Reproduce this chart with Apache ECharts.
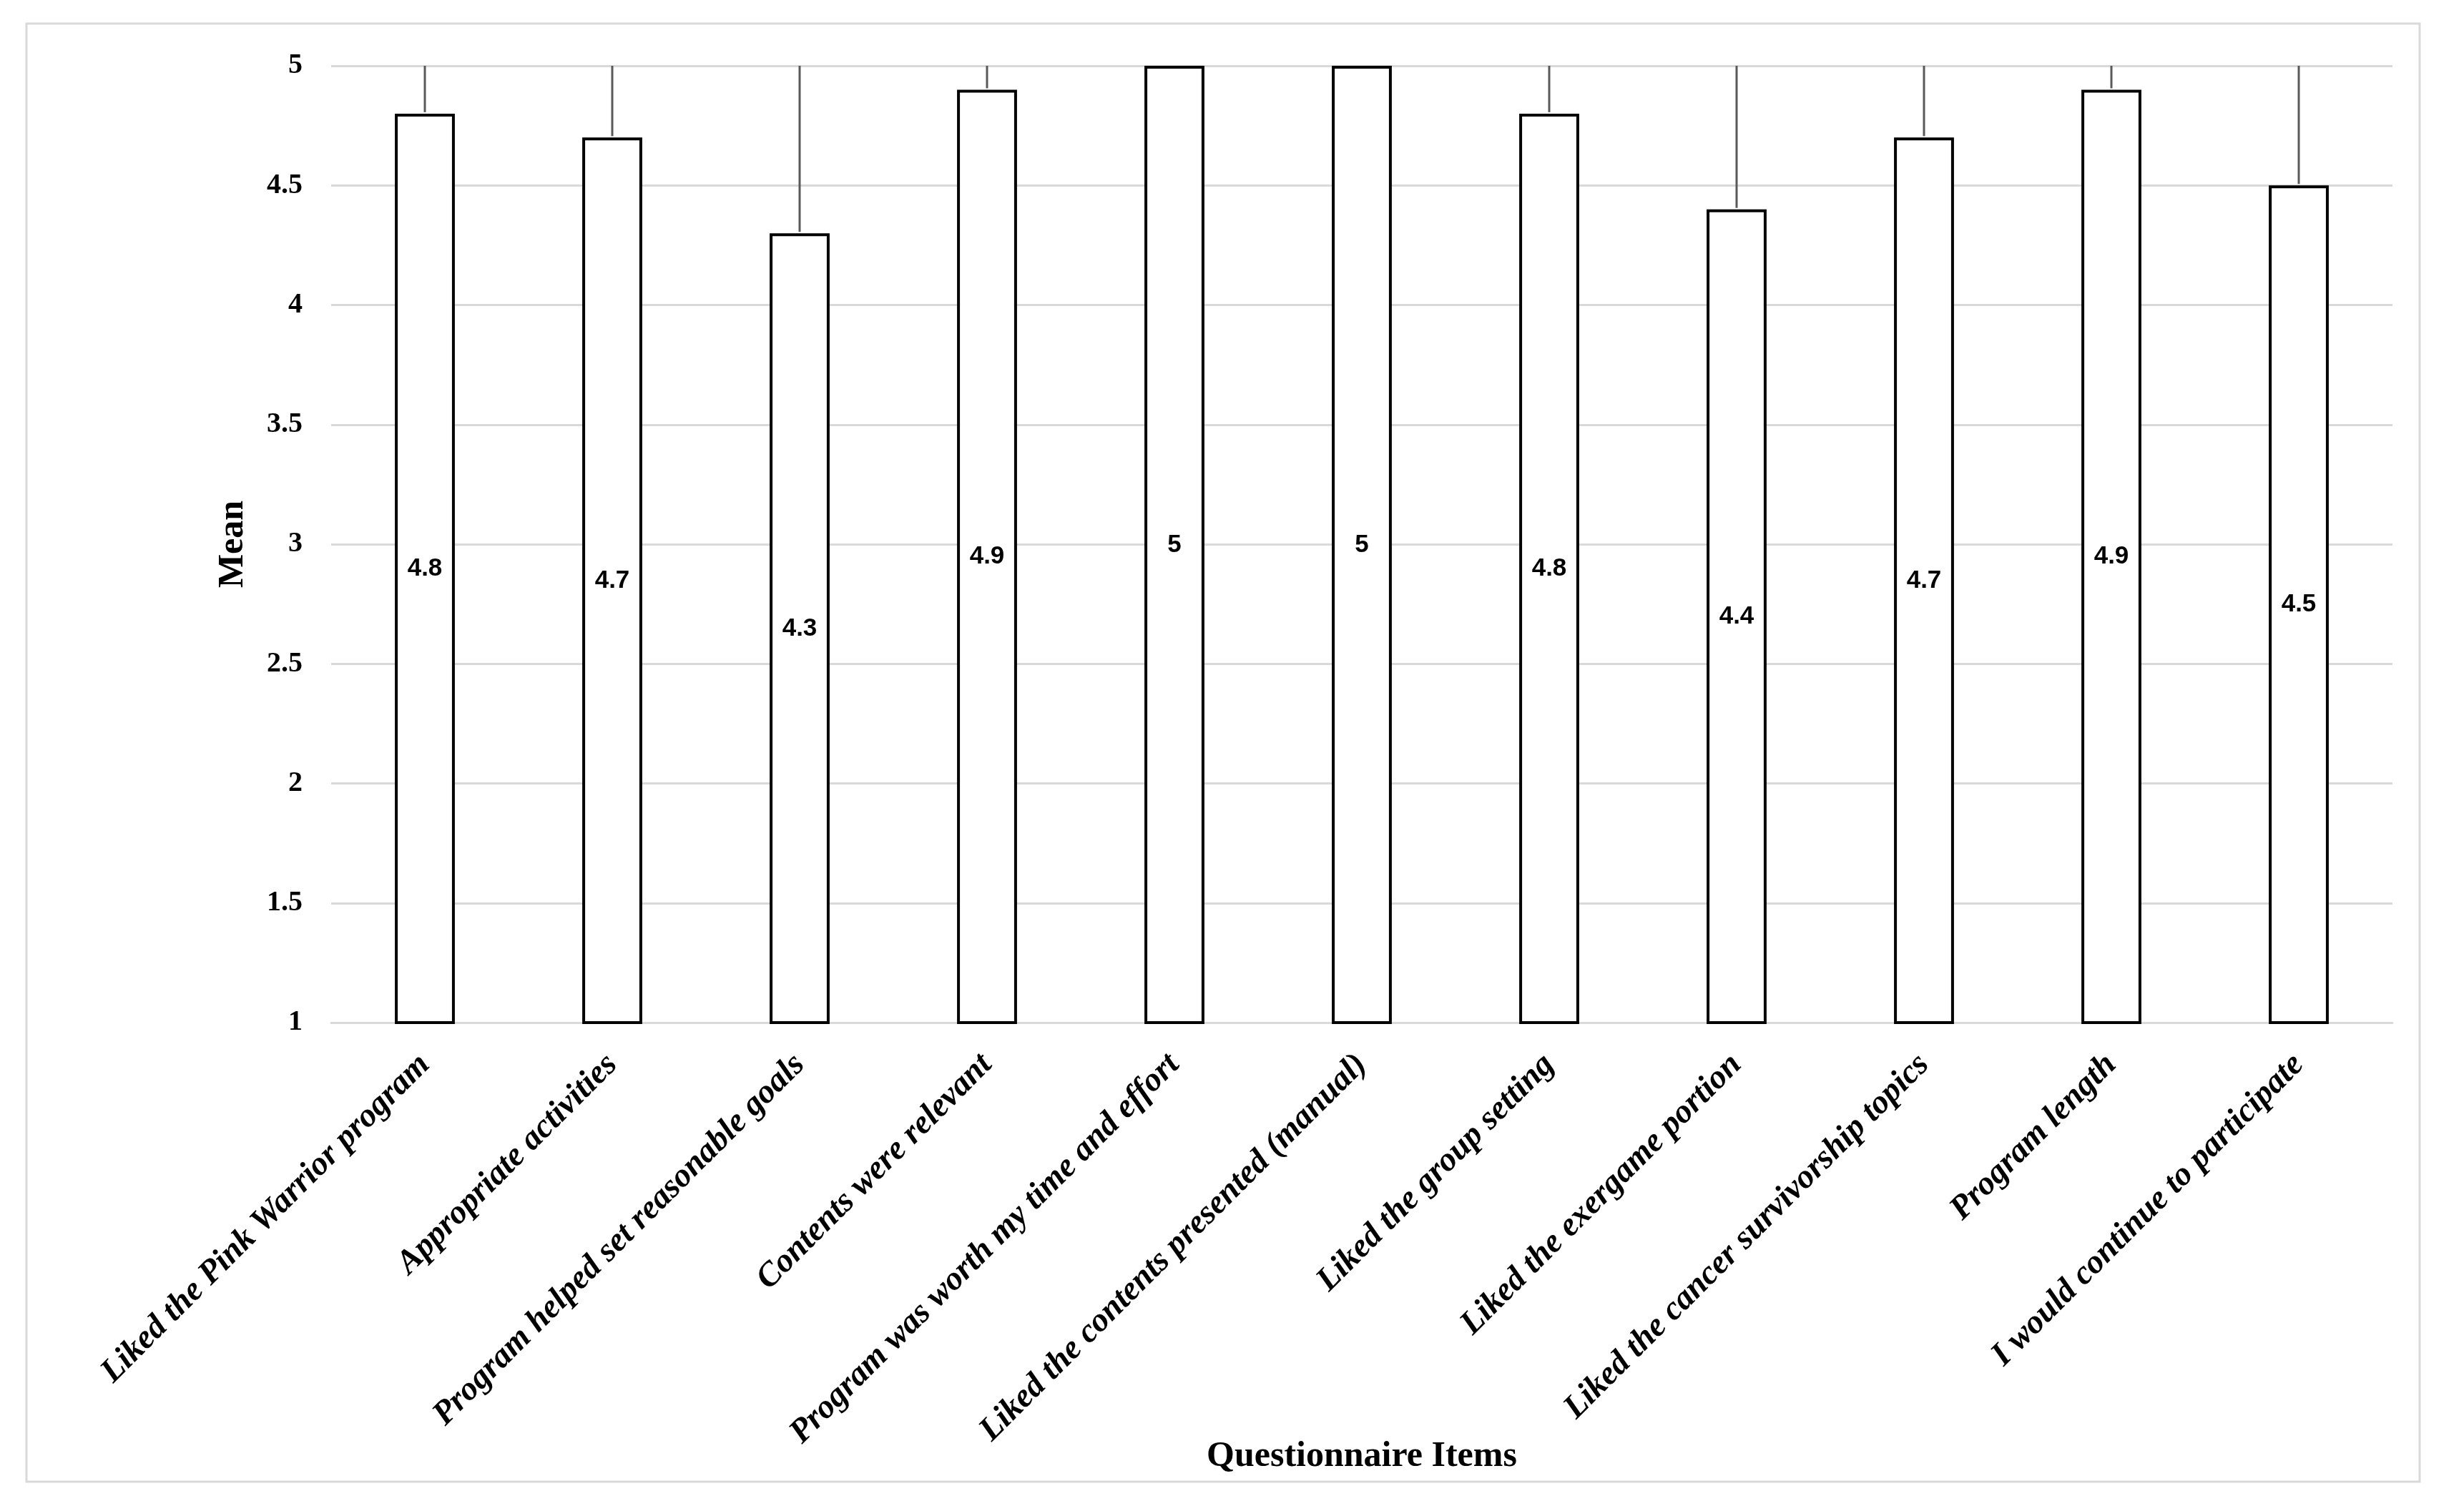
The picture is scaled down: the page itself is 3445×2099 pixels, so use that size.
<!DOCTYPE html>
<html>
<head>
<meta charset="utf-8">
<script src="https://cdn.jsdelivr.net/npm/echarts@6/dist/echarts.min.js"></script>
<style>
  html, body { margin: 0; padding: 0; background: #fff; }
  #chart { width: 3445px; height: 2099px; }
</style>
</head>
<body>
<div id="chart"></div>
<script>
const categories = [
  'Liked the Pink Warrior program',
  'Appropriate activities',
  'Program helped set reasonable goals',
  'Contents were relevant',
  'Program was worth my time and effort',
  'Liked the contents presented (manual)',
  'Liked the group setting',
  'Liked the exergame portion',
  'Liked the cancer survivorship topics',
  'Program length',
  'I would continue to participate'
];
const means = [4.8, 4.7, 4.3, 4.9, 5, 5, 4.8, 4.4, 4.7, 4.9, 4.5];
const sds = [0.4, 0.5, 0.9, 0.3, 0, 0, 0.4, 0.8, 0.5, 0.3, 0.7];
const yTicks = [1, 1.5, 2, 2.5, 3, 3.5, 4, 4.5, 5];

const chart = echarts.init(document.getElementById('chart'));
const serif = '"Liberation Serif", "DejaVu Serif", serif';

chart.setOption({
  animation: false,
  backgroundColor: '#ffffff',
  graphic: [{
    type: 'rect',
    shape: { x: 37, y: 33, width: 3346, height: 2039 },
    style: { fill: 'none', stroke: '#d9d9d9', lineWidth: 3 },
    silent: true
  }],
  grid: { left: 463, right: 100, top: 92, bottom: 669, containLabel: false },
  xAxis: {
    type: 'category',
    data: categories,
    name: 'Questionnaire Items',
    nameLocation: 'middle',
    nameGap: 582,
    nameMoveOverlap: false,
    nameTextStyle: { fontFamily: serif, fontWeight: 'bold', fontSize: 50, color: '#000' },
    axisLine: { show: true, lineStyle: { color: '#d9d9d9', width: 3 } },
    axisTick: { show: false },
    axisLabel: {
      interval: 0, rotate: 45, margin: 52,
      fontFamily: serif, fontStyle: 'italic', fontWeight: 'bold', fontSize: 47, color: '#000'
    }
  },
  yAxis: {
    type: 'value',
    min: 1, max: 5, interval: 0.5,
    name: 'Mean',
    nameLocation: 'middle',
    nameRotate: 90,
    nameGap: 112,
    nameMoveOverlap: false,
    nameTextStyle: { fontFamily: serif, fontWeight: 'bold', fontSize: 50, color: '#000' },
    axisLine: { show: false },
    axisTick: { show: false },
    splitLine: { lineStyle: { color: '#d9d9d9', width: 3 } },
    axisLabel: {
      margin: 40,
      fontFamily: serif, fontWeight: 'bold', fontSize: 40, color: '#000',
      formatter: v => (yTicks.indexOf(v) >= 0 ? String(v) : '')
    }
  },
  series: [
    {
      type: 'bar',
      data: means,
      barWidth: '32%',
      clip: true,
      itemStyle: { color: '#ffffff', borderColor: '#000000', borderWidth: 4 },
      label: {
        show: true, position: 'inside',
        fontFamily: '"Liberation Sans", Arial, sans-serif', fontWeight: 'bold', fontSize: 35, color: '#000',
        formatter: p => String(p.value)
      },
      z: 2
    },
    {
      type: 'custom',
      clip: true,
      z: 3,
      data: means.map((m, i) => [i, m, m + sds[i]]),
      renderItem: (params, api) => {
        const i = api.value(0);
        const top = api.coord([i, api.value(2)]);
        const bot = api.coord([i, api.value(1)]);
        if (api.value(2) <= api.value(1)) return null;
        return {
          type: 'line',
          shape: { x1: top[0], y1: top[1], x2: bot[0], y2: bot[1] - 2 },
          style: { stroke: '#595959', lineWidth: 3 }
        };
      }
    }
  ]
});
</script>
</body>
</html>
